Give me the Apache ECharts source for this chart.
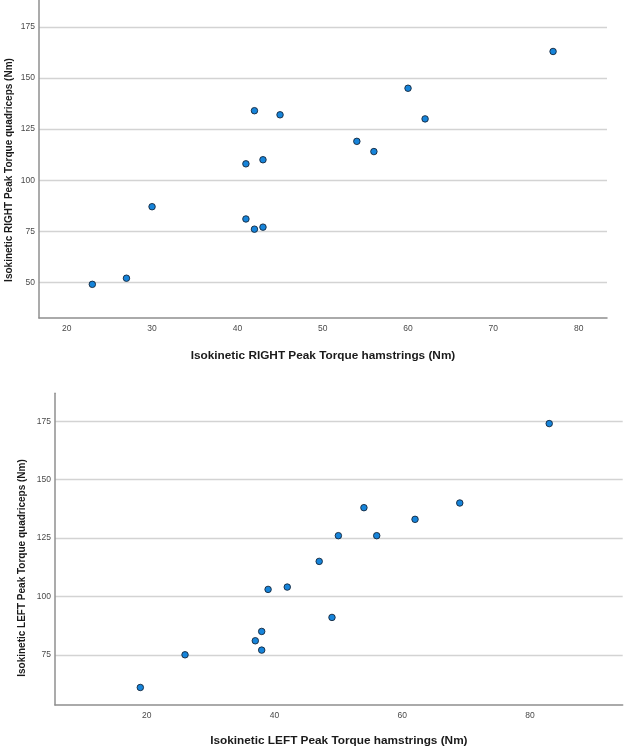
<!DOCTYPE html>
<html>
<head>
<meta charset="utf-8">
<script src="https://cdn.jsdelivr.net/npm/echarts@6/dist/echarts.min.js"></script>
<style>
html,body{margin:0;padding:0;background:#fff;}
#chart{width:624px;height:748px;}
</style>
</head>
<body>
<div id="chart"></div>
<script>
// Top panel: RIGHT side
const rightHamstrings = [23, 27, 30, 41, 42, 43, 41, 43, 42, 45, 54, 56, 60, 62, 77];
const rightQuadriceps = [49, 52, 87, 81, 76, 77, 108, 110, 134, 132, 119, 114, 145, 130, 163];
// Bottom panel: LEFT side
const leftHamstrings = [19, 26, 37, 38, 38, 39, 42, 47, 49, 50, 56, 54, 62, 69, 83];
const leftQuadriceps = [61, 75, 81, 85, 77, 103, 104, 115, 91, 126, 126, 138, 133, 140, 174];
// Tick labels
const topXTicks = [20, 30, 40, 50, 60, 70, 80];
const topYTicks = [50, 75, 100, 125, 150, 175];
const bottomXTicks = [20, 40, 60, 80];
const bottomYTicks = [75, 100, 125, 150, 175];
// Axis titles
const topXTitle = 'Isokinetic RIGHT Peak Torque hamstrings (Nm)';
const topYTitle = 'Isokinetic RIGHT Peak Torque quadriceps (Nm)';
const bottomXTitle = 'Isokinetic LEFT Peak Torque hamstrings (Nm)';
const bottomYTitle = 'Isokinetic LEFT Peak Torque quadriceps (Nm)';

const FONT = '"Liberation Sans", Arial, sans-serif';
const axisLineStyle = { show: true, lineStyle: { color: '#8f8f8f', width: 1.5 } };
const splitStyle = { show: true, showMinLine: true, showMaxLine: true, lineStyle: { color: '#d3d3d3', width: 1.3 } };
const labelStyle = { color: '#4a4a4a', fontSize: 8.5, fontFamily: FONT };

function xAxis(idx, min, max, ticks, name, gap) {
  return {
    type: 'value', gridIndex: idx, min: min, max: max,
    axisLine: axisLineStyle,
    axisTick: { show: false, customValues: ticks },
    axisLabel: Object.assign({ customValues: ticks, margin: 6 }, labelStyle),
    splitLine: { show: false },
    name: name, nameLocation: 'middle', nameGap: gap,
    nameTextStyle: { color: '#1a1a1a', fontSize: 11.8, fontWeight: 'bold', fontFamily: FONT }
  };
}
function yAxis(idx, min, max, ticks) {
  return {
    type: 'value', gridIndex: idx, min: min, max: max,
    axisLine: axisLineStyle,
    axisTick: { show: false, customValues: ticks },
    axisLabel: Object.assign({ customValues: ticks, margin: 4 }, labelStyle),
    splitLine: splitStyle
  };
}
const pointStyle = { color: '#1684da', borderColor: '#15263a', borderWidth: 0.9, opacity: 1 };

const option = {
  backgroundColor: '#ffffff',
  animation: false,
  grid: [
    { left: 39, right: 17, top: 0, height: 318 },
    { left: 55, right: 1.3, top: 393.3, height: 316.7 }
  ],
  xAxis: [
    xAxis(0, 16.75, 83.32, topXTicks, topXTitle, 32),
    xAxis(1, 5.65, 94.5, bottomXTicks, bottomXTitle, 30)
  ],
  yAxis: [
    yAxis(0, 32.52, 188.2, topYTicks),
    yAxis(1, 53.5, 186.97, bottomYTicks)
  ],
  graphic: [
    { type: 'text', x: 9, y: 170, rotation: Math.PI / 2,
      style: { text: topYTitle, fill: '#1a1a1a', fontSize: 10, fontWeight: 'bold', fontFamily: FONT, textAlign: 'center', textVerticalAlign: 'middle' } },
    { type: 'text', x: 22.5, y: 568, rotation: Math.PI / 2,
      style: { text: bottomYTitle, fill: '#1a1a1a', fontSize: 10, fontWeight: 'bold', fontFamily: FONT, textAlign: 'center', textVerticalAlign: 'middle' } }
  ],
  series: [
    { type: 'scatter', xAxisIndex: 0, yAxisIndex: 0, symbolSize: 6.5, itemStyle: pointStyle,
      data: rightHamstrings.map((v, i) => [v, rightQuadriceps[i]]) },
    { type: 'scatter', xAxisIndex: 1, yAxisIndex: 1, symbolSize: 6.5, itemStyle: pointStyle,
      data: leftHamstrings.map((v, i) => [v, leftQuadriceps[i]]) }
  ]
};
const chart = echarts.init(document.getElementById('chart'), null, { renderer: 'canvas' });
chart.setOption(option);
</script>
</body>
</html>
